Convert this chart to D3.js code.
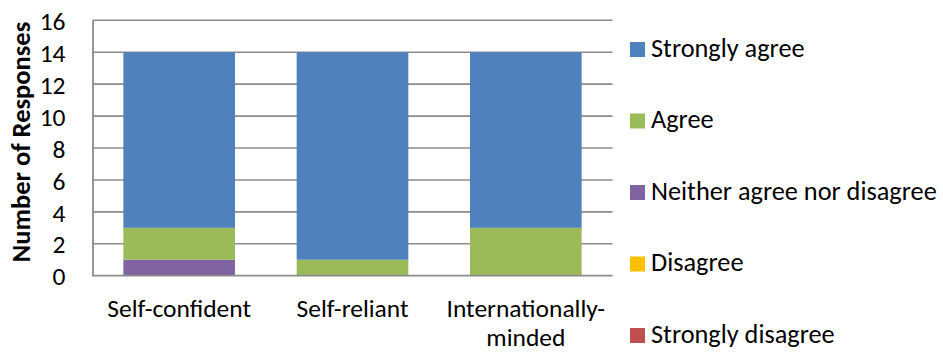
<!DOCTYPE html>
<html>
<head>
<meta charset="utf-8">
<script src="https://cdn.jsdelivr.net/npm/d3@7"></script>
<style>
  html, body { margin: 0; padding: 0; background: #fff; }
  svg { display: block; font-family: Calibri, Carlito, "Open Sans", sans-serif; }
</style>
</head>
<body>
<svg id="chart" width="943" height="354"></svg>
<script>
// Survey responses per attribute, stacked bottom-up from "Strongly disagree".
const categories = ["Self-confident", "Self-reliant", "Internationally-minded"];
const categoryLines = [["Self-confident"], ["Self-reliant"], ["Internationally-", "minded"]];
const responseLevels = ["Strongly disagree", "Disagree", "Neither agree nor disagree", "Agree", "Strongly agree"];
const stronglyDisagree = [0, 0, 0];
const disagree = [0, 0, 0];
const neither = [1, 0, 0];
const agree = [2, 1, 3];
const stronglyAgree = [11, 13, 11];
const yTicks = [0, 2, 4, 6, 8, 10, 12, 14, 16];
const levelColors = ["#C0504D", "#FFC000", "#8064A2", "#9BBB59", "#4F81BD"];

const seriesValues = [stronglyDisagree, disagree, neither, agree, stronglyAgree];
const rows = categories.map((c, i) => {
  const r = { category: c };
  responseLevels.forEach((lvl, k) => { r[lvl] = seriesValues[k][i]; });
  return r;
});

const svg = d3.select("#chart");
const plot = { left: 92.5, right: 612.5, top: 20.3, bottom: 275.7 };
const FONT = 25.5;

const x = d3.scaleBand().domain(categories).range([plot.left, plot.right]).paddingInner(0.356).paddingOuter(0.178);
const y = d3.scaleLinear().domain([0, 16]).range([plot.bottom, plot.top]);
const color = d3.scaleOrdinal().domain(responseLevels).range(levelColors);

const stacked = d3.stack().keys(responseLevels)(rows);

// Horizontal gridlines
svg.append("g")
  .selectAll("line")
  .data(yTicks.filter(t => t > 0))
  .join("line")
  .attr("x1", plot.left).attr("x2", plot.right)
  .attr("y1", d => y(d)).attr("y2", d => y(d))
  .attr("stroke", "#8c8c8c").attr("stroke-width", 1.6);

// Stacked bars
svg.append("g")
  .selectAll("g")
  .data(stacked)
  .join("g")
  .attr("fill", d => color(d.key))
  .selectAll("rect")
  .data(d => d.filter(s => s[1] - s[0] > 0))
  .join("rect")
  .attr("x", d => x(d.data.category))
  .attr("width", x.bandwidth())
  .attr("y", d => y(d[1]))
  .attr("height", d => y(d[0]) - y(d[1]));

// Y axis
const yAxis = svg.append("g")
  .attr("transform", `translate(${plot.left},0)`)
  .call(d3.axisLeft(y).tickValues(yTicks).tickSize(0).tickPadding(27).tickFormat(d3.format("d")));
yAxis.select(".domain").attr("stroke", "#8c8c8c").attr("stroke-width", 1.8);
yAxis.selectAll("text").attr("font-size", FONT).attr("fill", "#000").attr("dy", "0.36em")
  .style("font-family", "Calibri, Carlito, 'Open Sans', sans-serif");

// X axis baseline
svg.append("line")
  .attr("x1", plot.left).attr("x2", plot.right)
  .attr("y1", y(0)).attr("y2", y(0))
  .attr("stroke", "#8c8c8c").attr("stroke-width", 1.8);

// Category labels
const xl = svg.append("g");
categories.forEach((c, i) => {
  const cx = x(c) + x.bandwidth() / 2;
  const t = xl.append("text")
    .attr("x", cx)
    .attr("y", 317)
    .attr("text-anchor", "middle")
    .attr("font-size", FONT)
    .attr("fill", "#000");
  categoryLines[i].forEach((ln, j) => {
    t.append("tspan").attr("x", cx).attr("dy", j === 0 ? 0 : 29).text(ln);
  });
});

// Y axis title
svg.append("text")
  .attr("transform", `translate(30,${(plot.top + plot.bottom) / 2 - 6}) rotate(-90)`)
  .attr("text-anchor", "middle")
  .attr("font-size", 26.5)
  .attr("font-weight", "bold")
  .attr("fill", "#000")
  .text("Number of Responses");

// Legend, top entry is the top of the stack
const legendItems = responseLevels.slice().reverse();
const legend = svg.append("g");
legendItems.forEach((lvl, i) => {
  const cy = 49.5 + i * 71.5;
  legend.append("rect")
    .attr("x", 630).attr("y", cy - 7.5).attr("width", 15).attr("height", 15)
    .attr("fill", color(lvl));
  legend.append("text")
    .attr("x", 651).attr("y", cy + 7)
    .attr("font-size", 26.3)
    .attr("fill", "#000")
    .text(lvl);
});
</script>
</body>
</html>
